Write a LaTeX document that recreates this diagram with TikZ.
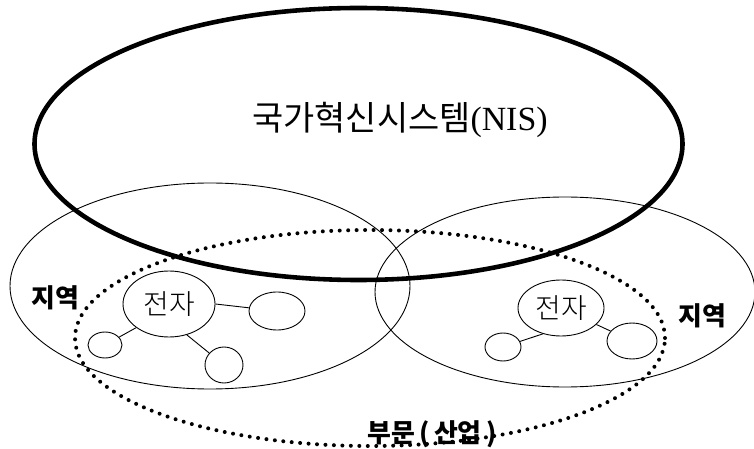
\documentclass[tikz,border=0pt]{standalone}
\usepackage{fontspec}
\setmainfont{Liberation Serif}
\newfontfamily\kr{Noto Sans CJK KR}
\newfontfamily\krl{Noto Sans CJK KR Light}
\usetikzlibrary{shapes.geometric}
\begin{document}
\begin{tikzpicture}[x=1bp,y=-1bp,
  thinell/.style={draw,ellipse,line width=0.9pt,inner sep=0pt},
  nisell/.style={draw,ellipse,line width=4.6pt,inner sep=0pt},
  dotell/.style={draw,ellipse,inner sep=0pt,line width=4pt,line cap=round,dash pattern=on 0pt off 8.5pt},
  link/.style={line width=0.9pt},
  boldlbl/.style={font=\kr\bfseries\fontsize{26}{30}\selectfont},
  elbl/.style={font=\krl\fontsize{28}{32}\selectfont}]
\useasboundingbox (0,0) rectangle (754,449);
% regions
\node[thinell,minimum width=400bp,minimum height=206bp] (regL) at (210,286) {};
\node[thinell,minimum width=380bp,minimum height=190bp] (regR) at (565,292) {};
% sector
\node[dotell,minimum width=590bp,minimum height=216bp] (sector) at (370,338) {};
% NIS
\node[nisell,minimum width=648bp,minimum height=272bp] (nis) at (358.5,144) {};
\node[font=\kr\fontsize{34}{38}\selectfont] (nistxt) at (400,120) {국가혁신시스템{\rmfamily(NIS)}};
% labels
\node[boldlbl] (lblL) at (55,298) {지역};
\node[boldlbl] (lblR) at (702,316) {지역};
\node[boldlbl] (lblS) at (432,434) {부문\,(\,산업\,)};
% left cluster
\node[thinell,minimum width=92bp,minimum height=66bp,elbl] (eL) at (169,304) {전자};
\node[thinell,minimum width=56bp,minimum height=38bp] (eL1) at (277,311) {};
\node[thinell,minimum width=34bp,minimum height=26bp] (eL2) at (105,345) {};
\node[thinell,minimum width=38bp,minimum height=36bp] (eL3) at (224,365) {};
\draw[link] (eL.east) -- (eL1);
\draw[link] (eL.south west) -- (eL2);
\draw[link] (eL.-60) -- (eL3);
% right cluster
\node[thinell,minimum width=86bp,minimum height=56bp,elbl] (eR) at (561,308) {전자};
\node[thinell,minimum width=36bp,minimum height=28bp] (eR1) at (503,347) {};
\node[thinell,minimum width=50bp,minimum height=36bp] (eR2) at (632,341) {};
\draw[link] (eR.-125) -- (eR1);
\draw[link] (eR.-25) -- (eR2);
\end{tikzpicture}
\end{document}
